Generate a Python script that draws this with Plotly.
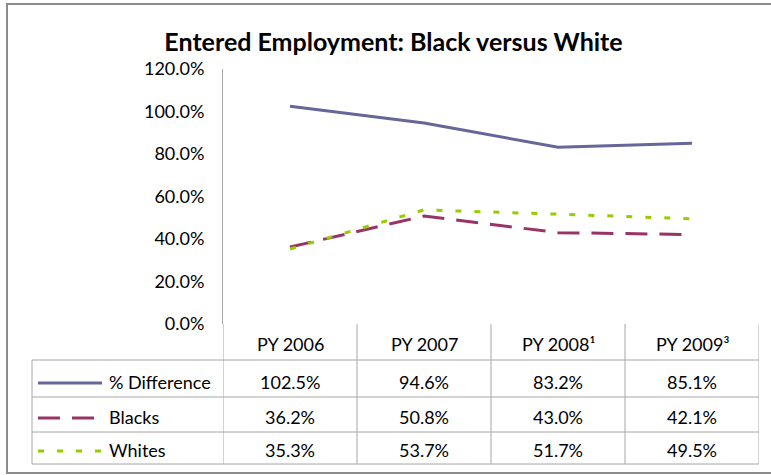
import plotly.graph_objects as go

# ---------------- data ----------------
categories = ["PY 2006", "PY 2007", "PY 2008¹", "PY 2009³"]
series_names = ["% Difference", "Blacks", "Whites"]
pct_difference = [102.5, 94.6, 83.2, 85.1]
blacks = [36.2, 50.8, 43.0, 42.1]
whites = [35.3, 53.7, 51.7, 49.5]
y_ticks = [0, 20, 40, 60, 80, 100, 120]
y_tick_labels = [f"{v:.1f}%" for v in y_ticks]
title_text = "Entered Employment: Black versus White"

# ---------------- styles ----------------
colors = ["#666699", "#993366", "#99CC00"]
dashes = ["solid", "22px,12px", "6px,13px"]
FONT = "Lato"
GRID = "#a6a6a6"

W, H = 771, 475
L, R, T, B = 223, 12, 69, 151


def px_x(px):
    return (px - L) / (W - L - R)


def px_y(py):
    return (H - B - py) / (H - T - B)


series_values = [pct_difference, blacks, whites]

fig = go.Figure()
for name, vals, col, dsh in zip(series_names, series_values, colors, dashes):
    fig.add_trace(go.Scatter(
        x=categories, y=vals, mode="lines", name=name,
        line=dict(color=col, width=3, dash=dsh),
        showlegend=False, hoverinfo="skip",
    ))

shapes = []
annotations = []

# blank strip on the far right (nothing drawn there in the original)
shapes.append(dict(type="rect", xref="paper", yref="paper",
                   x0=px_x(761), x1=px_x(800), y0=px_y(480), y1=px_y(-5),
                   fillcolor="white", line=dict(width=0), layer="above"))

# outer chart border: top, left, bottom edges (right edge is outside the page)
border = dict(color="#8c8c8c", width=2)
shapes.append(dict(type="line", xref="paper", yref="paper",
                   x0=px_x(6), x1=px_x(771), y0=px_y(4), y1=px_y(4), line=border))
shapes.append(dict(type="line", xref="paper", yref="paper",
                   x0=px_x(7), x1=px_x(7), y0=px_y(474), y1=px_y(3), line=border))
shapes.append(dict(type="line", xref="paper", yref="paper",
                   x0=px_x(6), x1=px_x(771), y0=px_y(473), y1=px_y(473), line=border))

# data table grid
row_lines = [360, 397, 432, 464]
for py in row_lines:
    shapes.append(dict(type="line", xref="paper", yref="paper",
                       x0=px_x(32), x1=1, y0=px_y(py), y1=px_y(py),
                       line=dict(color=GRID, width=1)))
# vertical column lines (category boundaries via the x scale)
for i in range(len(categories) + 1):
    shapes.append(dict(type="line", xref="x", yref="paper",
                       x0=i - 0.5, x1=i - 0.5, y0=px_y(464), y1=0,
                       line=dict(color=GRID, width=1)))
# left edge of legend column
shapes.append(dict(type="line", xref="paper", yref="paper",
                   x0=px_x(32), x1=px_x(32), y0=px_y(464), y1=px_y(360),
                   line=dict(color=GRID, width=1)))

# header labels
for cat in categories:
    annotations.append(dict(xref="x", yref="paper", x=cat, y=px_y(344),
                            text=cat, showarrow=False, xanchor="center", yanchor="middle",
                            font=dict(family=FONT, size=18, color="#000")))

row_centers = [382, 417, 450]
for name, vals, col, dsh, yc in zip(series_names, series_values, colors, dashes, row_centers):
    # legend key
    shapes.append(dict(type="line", xref="paper", yref="paper",
                       x0=px_x(38), x1=px_x(102), y0=px_y(yc + 1), y1=px_y(yc + 1),
                       line=dict(color=col, width=3, dash=dsh)))
    annotations.append(dict(xref="paper", yref="paper", x=px_x(107), y=px_y(yc),
                            text=name, showarrow=False, xanchor="left", yanchor="middle",
                            font=dict(family=FONT, size=18, color="#000")))
    for cat, v in zip(categories, vals):
        annotations.append(dict(xref="x", yref="paper", x=cat, y=px_y(yc),
                                text=f"{v:.1f}%", showarrow=False,
                                xanchor="center", yanchor="middle",
                                font=dict(family=FONT, size=18, color="#000")))

fig.update_layout(
    width=W, height=H,
    margin=dict(l=L, r=R, t=T, b=B),
    paper_bgcolor="white", plot_bgcolor="white",
    title=dict(text=f"<b>{title_text}</b>", x=393.5 / W, xanchor="center",
               y=1 - 42 / H, yanchor="middle",
               font=dict(family=FONT, size=25, color="#000")),
    xaxis=dict(type="category", range=[-0.5, len(categories) - 0.5],
               showticklabels=False, showgrid=False, zeroline=False,
               showline=False, ticks=""),
    yaxis=dict(range=[0, 120], tickvals=y_ticks, ticktext=y_tick_labels,
               showgrid=False, zeroline=False, showline=True, linecolor=GRID,
               linewidth=1, ticks="", ticklabelstandoff=14,
               tickfont=dict(family=FONT, size=18, color="#000")),
    shapes=shapes,
    annotations=annotations,
)

fig.write_html(
    "out.html", config={"displayModeBar": False},
    post_script=("document.body.style.margin='0';"
                 "document.body.style.overflow='hidden';"
                 "document.documentElement.style.overflow='hidden';"),
)
